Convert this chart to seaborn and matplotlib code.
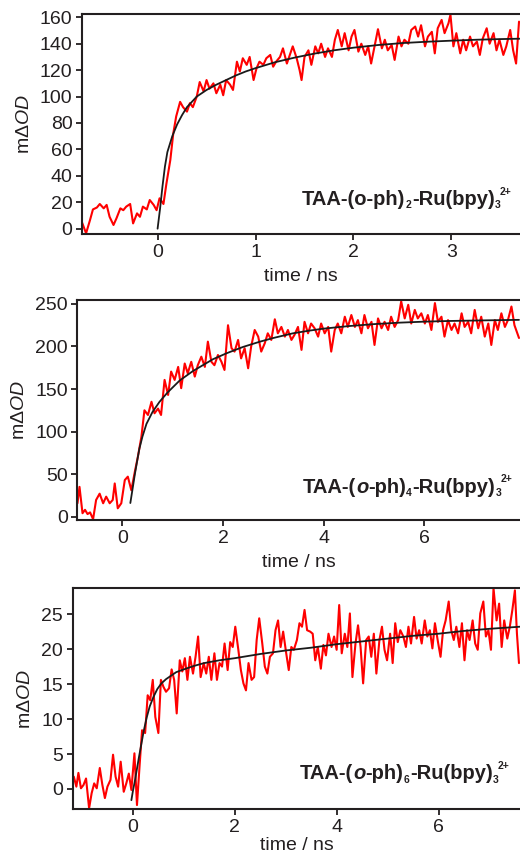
import matplotlib
matplotlib.use("Agg")
import matplotlib.pyplot as plt
import matplotlib.transforms as mtransforms
import seaborn as sns

# ---- panel 1: TAA-(o-ph)2-Ru(bpy)3 ----
t1 = [-0.77, -0.73, -0.69, -0.66, -0.62, -0.59, -0.55, -0.52, -0.49, -0.45, -0.42, -0.38, -0.35,
      -0.32, -0.28, -0.25, -0.21, -0.18, -0.15, -0.11, -0.08, -0.04, -0.01, 0.02, 0.06, 0.09, 0.13,
      0.16, 0.19, 0.23, 0.26, 0.30, 0.33, 0.36, 0.40, 0.43, 0.47, 0.50, 0.53, 0.57, 0.60, 0.64, 0.67,
      0.70, 0.74, 0.77, 0.81, 0.84, 0.87, 0.91, 0.94, 0.98, 1.01, 1.04, 1.08, 1.11, 1.15, 1.18, 1.21,
      1.25, 1.28, 1.32, 1.35, 1.38, 1.42, 1.45, 1.47, 1.50, 1.54, 1.57, 1.61, 1.64, 1.67, 1.71, 1.74,
      1.78, 1.81, 1.84, 1.88, 1.91, 1.95, 1.98, 2.01, 2.05, 2.08, 2.12, 2.15, 2.18, 2.22, 2.25, 2.29,
      2.32, 2.35, 2.39, 2.42, 2.46, 2.49, 2.52, 2.56, 2.59, 2.63, 2.66, 2.69, 2.73, 2.76, 2.80, 2.83,
      2.86, 2.90, 2.93, 2.97, 2.99, 3.02, 3.05, 3.09, 3.12, 3.15, 3.19, 3.22, 3.26, 3.29, 3.32, 3.36,
      3.39, 3.43, 3.46, 3.49, 3.53, 3.56, 3.60, 3.63, 3.66, 3.69]
od1 = [4.5, -3.5, 6.5, 14.6, 16, 18.7, 15.4, 18, 9, 2.8, 7.8, 15.4, 14, 16.7, 18.7, 4, 11.6, 9, 16.7,
       14.6, 21.7, 18, 14, 23, 18.7, 34, 52, 72, 85, 96, 92, 88.6, 95, 92, 100, 111, 104, 112.5, 106,
       110, 102.5, 109, 101, 112.5, 109, 105, 126.4, 119, 129, 124, 130, 112.5, 121.4, 126.4, 124, 129,
       131.5, 122.6, 126.4, 130, 136.5, 125, 131.5, 138, 129, 120, 112.5, 130, 135, 124, 138, 132.7,
       140, 130, 136.5, 130, 143, 150.4, 138, 148, 135, 145.4, 150.4, 134, 140, 131.5, 138, 125, 140,
       151, 136.5, 143, 135, 139, 127.7, 145.4, 138, 143, 140, 150.4, 153, 145.4, 154, 138, 145.4, 149,
       132.7, 151.7, 158, 148, 155.5, 162, 138, 148, 132.7, 143, 135, 145.4, 138, 141.6, 131.5, 144,
       151.7, 140, 148, 135, 143, 131.5, 138, 150.4, 135, 125, 156.7]
fit1_t = [0.0, 0.025, 0.05, 0.075, 0.1, 0.15, 0.2, 0.25, 0.3, 0.4, 0.5, 0.6, 0.7, 0.8, 0.9, 1.0,
          1.2, 1.4, 1.6, 1.8, 2.0, 2.25, 2.5, 2.75, 3.0, 3.25, 3.5, 3.7]
fit1_y = [0, 15, 32, 47, 58, 70, 79, 86, 92, 100, 105, 109, 112.5, 116, 119, 121.5,
          126, 129.5, 132.5, 135, 137, 139, 140.5, 141.5, 142.3, 143, 143.5, 143.8]

# ---- panel 2: TAA-(o-ph)4-Ru(bpy)3 ----
t2 = [-0.89, -0.85, -0.79, -0.74, -0.69, -0.64, -0.58, -0.52, -0.45, -0.38, -0.32, -0.25, -0.19,
      -0.15, -0.09, -0.02, 0.05, 0.11, 0.18, 0.25, 0.31, 0.38, 0.44, 0.51, 0.58, 0.64, 0.71, 0.77,
      0.84, 0.91, 0.97, 1.04, 1.11, 1.17, 1.24, 1.30, 1.37, 1.44, 1.50, 1.57, 1.64, 1.70, 1.77, 1.83,
      1.90, 1.97, 2.03, 2.10, 2.17, 2.23, 2.30, 2.36, 2.43, 2.50, 2.56, 2.63, 2.70, 2.76, 2.83, 2.89,
      2.96, 3.03, 3.09, 3.16, 3.23, 3.29, 3.36, 3.42, 3.49, 3.56, 3.62, 3.69, 3.75, 3.82, 3.89, 3.95,
      4.02, 4.09, 4.15, 4.22, 4.28, 4.35, 4.42, 4.48, 4.55, 4.62, 4.68, 4.75, 4.81, 4.88, 4.95, 5.01,
      5.08, 5.15, 5.21, 5.28, 5.34, 5.41, 5.48, 5.54, 5.61, 5.68, 5.74, 5.81, 5.87, 5.94, 6.01, 6.07,
      6.14, 6.21, 6.27, 6.34, 6.40, 6.47, 6.54, 6.60, 6.67, 6.74, 6.80, 6.87, 6.93, 7.00, 7.07, 7.13,
      7.20, 7.27, 7.33, 7.40, 7.46, 7.53, 7.60, 7.66, 7.73, 7.79, 7.88]
od2 = [15.7, 35, 4, 8, 3, 5, -3, 19.6, 27, 15.7, 23.5, 15.7, 19.6, 39,
       9.8, 15.7, 43, 47, 31, 53, 70.5, 94, 125, 119.5,
       135, 121.5, 127, 119.5, 160.7, 143, 170.5, 160.7, 176, 151,
       180, 168.5, 182, 164.6, 178, 188, 176, 205.7, 182, 178,
       190, 182, 172.4, 225, 198, 194, 207.7, 186, 198, 174.4,
       200, 219.4, 211.6, 194, 203.8, 215.5, 207.7, 232, 215.5, 223,
       211.6, 219.4, 207.7, 213.6, 223, 196, 229, 215.5, 227, 221.4,
       211.6, 227, 215.5, 223, 194, 219.4, 227, 215.5, 235, 223,
       237, 223, 231, 215.5, 237, 221.4, 229, 201.8, 233, 221.4,
       229, 219.4, 235, 223, 231, 253, 233, 249, 227, 243,
       233, 239, 227, 237, 219.4, 251, 229, 235, 211.6, 231,
       219.4, 227, 215.5, 239, 223, 229, 215.5, 243, 221.4, 235,
       211.6, 227, 201.8, 231, 219.4, 239, 223, 231, 247, 225, 210]
fit2_t = [0.16, 0.2, 0.25, 0.3, 0.34, 0.4, 0.48, 0.6, 0.74, 0.9, 1.14, 1.4, 1.6, 1.8, 2.07,
          2.4, 2.73, 3.0, 3.39, 3.7, 4.0, 4.5, 5.0, 5.5, 6.0, 6.5, 7.0, 7.5, 7.88]
fit2_y = [16, 31, 50, 67, 80, 94, 109, 123, 135, 146, 160, 171, 178, 185, 192,
          199.5, 205.6, 210, 215.5, 218.5, 221, 224, 226.3, 228, 229.2, 230, 230.5, 231, 231.3]

# ---- panel 3: TAA-(o-ph)6-Ru(bpy)3 ----
t3 = [-1.16, -1.11, -1.07, -1.02,
      -0.97, -0.92, -0.86, -0.81, -0.76, -0.71, -0.65, -0.60, -0.55, -0.50,
      -0.44, -0.39, -0.34, -0.29, -0.24, -0.18, -0.13, -0.08, -0.03, 0.03,
      0.08, 0.13, 0.18, 0.24, 0.29, 0.34, 0.39, 0.44, 0.50, 0.55,
      0.60, 0.65, 0.71, 0.76, 0.81, 0.86, 0.92, 0.97, 1.02, 1.07,
      1.12, 1.18, 1.23, 1.28, 1.33, 1.39, 1.44, 1.49, 1.54, 1.60,
      1.65, 1.70, 1.75, 1.80, 1.86, 1.91, 1.96, 2.01, 2.07, 2.12,
      2.17, 2.22, 2.27, 2.33, 2.38, 2.43, 2.48, 2.54, 2.59, 2.64,
      2.69, 2.75, 2.80, 2.85, 2.90, 2.95, 3.01, 3.06, 3.11, 3.16,
      3.22, 3.27, 3.32, 3.37, 3.42, 3.48, 3.53, 3.58, 3.63, 3.69,
      3.74, 3.79, 3.84, 3.90, 3.95, 4.00, 4.05, 4.10, 4.16, 4.21,
      4.26, 4.31, 4.37, 4.42, 4.47, 4.52, 4.58, 4.63, 4.68, 4.73,
      4.78, 4.84, 4.89, 4.94, 4.99, 5.05, 5.10, 5.15, 5.20, 5.25,
      5.31, 5.36, 5.41, 5.46, 5.52, 5.57, 5.62, 5.67, 5.73, 5.78,
      5.83, 5.88, 5.93, 5.99, 6.04, 6.09, 6.14, 6.20, 6.25, 6.30,
      6.35, 6.41, 6.46, 6.51, 6.56, 6.61, 6.67, 6.72, 6.77, 6.82,
      6.88, 6.93, 6.98, 7.03, 7.08, 7.14, 7.19, 7.24, 7.29, 7.35,
      7.40, 7.45, 7.50, 7.54, 7.58]
od3 = [1.76, 0.33, 2.3, 0.1,
       0.57, 1.5, -2.76, -0.6, 0.8, 0.1, 3, 0.6, -1.3, 0.33,
       1.3, 4.9, 1.76, 0.33, 3.9, -0.4, 0.8, 2.2, -0.14, 5.1,
       -2.3, 3.2, 8.4, 8, 13.4, 12.7, 15.6, 10.3, 8, 15.6,
       14.6, 13.9, 14.4, 17.1, 15.6, 10.8, 18.4, 16.8, 18.7, 15.6,
       18.9, 16.5, 18.9, 21.8, 16, 18, 16.5, 18.9, 15.6, 19.4,
       15.6, 18, 17.5, 20.8, 17, 21, 20.3, 23.2, 19.9, 17,
       15.1, 14.1, 18, 15.6, 16, 21.3, 24.4, 20.8, 17.5, 16.5,
       18.9, 19.4, 22.7, 24.1, 20.3, 22.5, 19.4, 17, 20.3, 19.9,
       21.3, 23.7, 23.2, 25.6, 22.7, 22.5, 22.2, 18.4, 20.3, 17.2,
       20.6, 19.1, 22.2, 20.3, 21.8, 19.9, 26.3, 19.4, 22.2, 20.3,
       25.1, 16, 20.8, 23.4, 20.3, 15.1, 21.3, 21.8, 18.9, 22.2,
       16.5, 21.3, 23.2, 19.9, 18.4, 22.2, 18, 23.7, 21, 22.7,
       21.8, 20.3, 23.2, 20.8, 24.6, 21.5, 22.7, 20.8, 24.1, 21.8,
       22.7, 20.1, 23.7, 21, 18.9, 22.7, 24.1, 26.8, 22.7, 21.3,
       23.2, 20.3, 23.7, 18.4, 22.7, 21.3, 24.1, 20.8, 19.9, 25.1,
       26.8, 21.8, 22.7, 19.9, 28.7, 24.1, 26.5, 20.3, 24.1, 21.5,
       23.2, 25.6, 28.4, 22.2, 18]
fit3_t = [-0.03, 0.0, 0.04, 0.08, 0.12, 0.16, 0.21, 0.27, 0.33, 0.40, 0.48, 0.56, 0.65, 0.73,
          0.85, 1.0, 1.2, 1.4, 1.7, 2.0, 2.5, 3.0, 3.5, 4.0, 4.5, 5.0, 5.5, 6.0, 6.5, 7.0, 7.6]
fit3_y = [-1.6, -0.3, 1.2, 2.9, 4.6, 6.2, 8.2, 10.2, 11.8, 13.1, 14.3, 15.1, 15.7, 16.1,
          16.7, 17.1, 17.6, 18.0, 18.4, 18.7, 19.3, 19.8, 20.2, 20.7, 21.1, 21.5, 21.9, 22.2,
          22.6, 22.9, 23.2]

# compound name pieces: (text, kind) -> kind: n normal, i italic, sub, sup
names = [
    [('TAA-(o-ph)', 'n'), ('2', 'sub'), ('-Ru(bpy)', 'n'), ('3', 'sub'), ('2+', 'sup')],
    [('TAA-(', 'n'), ('o', 'i'), ('-ph)', 'n'), ('4', 'sub'), ('-Ru(bpy)', 'n'), ('3', 'sub'), ('2+', 'sup')],
    [('TAA-(', 'n'), ('o', 'i'), ('-ph)', 'n'), ('6', 'sub'), ('-Ru(bpy)', 'n'), ('3', 'sub'), ('2+', 'sup')],
]

sns.set_theme(style="ticks")
ink = '#231f20'
plt.rcParams['font.family'] = ['Liberation Sans', 'DejaVu Sans']
plt.rcParams['mathtext.fontset'] = 'custom'
plt.rcParams['mathtext.rm'] = 'Liberation Sans'
plt.rcParams['mathtext.it'] = 'Liberation Sans:italic'
plt.rcParams['text.color'] = ink
plt.rcParams['axes.labelcolor'] = ink

fig = plt.figure(figsize=(5.2, 8.58), dpi=100)
renderer = fig.canvas.get_renderer()

panels = [
    dict(rect=[0.158, 0.7273, 0.842, 0.2564], t=t1, y=od1, ft=fit1_t, fy=fit1_y,
         xlim=(-0.77, 3.70), ylim=(-4, 162.5), xt=[0, 1, 2, 3], yt=range(0, 161, 20),
         lx=0.502, ly=0.132, xpad=5),
    dict(rect=[0.149, 0.394, 0.851, 0.2564], t=t2, y=od2, ft=fit2_t, fy=fit2_y,
         xlim=(-0.89, 7.90), ylim=(-3.9, 254.7), xt=[0, 2, 4, 6], yt=range(0, 251, 50),
         lx=0.509, ly=0.124, xpad=5),
    dict(rect=[0.140, 0.0568, 0.860, 0.2576], t=t3, y=od3, ft=fit3_t, fy=fit3_y,
         xlim=(-1.18, 7.60), ylim=(-2.9, 28.7), xt=[0, 2, 4, 6], yt=range(0, 26, 5),
         lx=0.508, ly=0.136, xpad=1),
]


def put_name(ax, x, y, pieces):
    # lay the name out piece by piece so subscripts can be small like the original
    px = 0.0
    sub_x = 0.0
    for txt, kind in pieces:
        size, dy, style = 14.5, 0, 'normal'
        if kind == 'i':
            style = 'italic'
        if kind in ('sub', 'sup'):
            size = 7.5
            dy = -2.5 if kind == 'sub' else 7.5
        xo = sub_x if kind == 'sup' else px
        tr = ax.transAxes + mtransforms.ScaledTranslation(xo / 72, dy / 72, fig.dpi_scale_trans)
        t = ax.text(x, y, txt, transform=tr, fontsize=size, fontweight='bold', fontstyle=style,
                    ha='left', va='baseline', color=ink)
        w = t.get_window_extent(renderer).width * 72 / fig.dpi
        if kind == 'sub':
            sub_x = px + 4
            w += 0.5
        px = xo + w


for p, pieces in zip(panels, names):
    ax = fig.add_axes(p['rect'])
    sns.lineplot(x=p['t'], y=p['y'], ax=ax, color='#ff0000', linewidth=1.5,
                 sort=False, estimator=None)
    sns.lineplot(x=p['ft'], y=p['fy'], ax=ax, color='#1a1a1a', linewidth=1.3,
                 sort=False, estimator=None)
    ax.set_xlim(*p['xlim'])
    ax.set_ylim(*p['ylim'])
    ax.set_xticks(p['xt'])
    ax.set_yticks(list(p['yt']))
    ax.set_xlabel('time / ns', fontsize=14, labelpad=p['xpad'])
    ax.set_ylabel(r'm$\Delta$$\mathit{OD}$', fontsize=14, labelpad=5)
    ax.tick_params(direction='out', length=4, width=1.3, colors=ink, labelsize=14, pad=3)
    for s in ['left', 'top', 'bottom']:
        ax.spines[s].set_linewidth(1.5)
        ax.spines[s].set_color(ink)
    ax.spines['right'].set_visible(False)
    put_name(ax, p['lx'], p['ly'], pieces)

fig.savefig('out.png', dpi=100)
